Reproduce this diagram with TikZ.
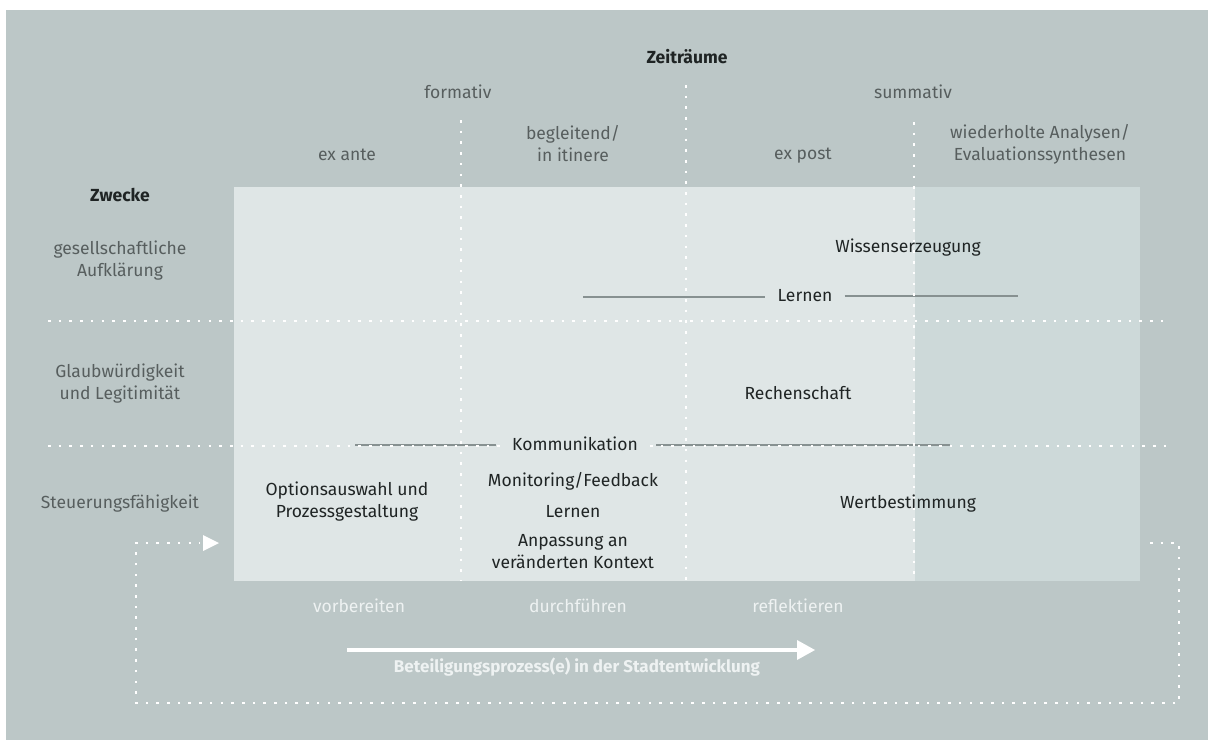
\documentclass[tikz,border=0pt]{standalone}
\usepackage{fontspec}
\setmainfont{Fira Sans}
\definecolor{bg}{HTML}{BCC7C7}
\definecolor{panel}{HTML}{DFE6E6}
\definecolor{panelR}{HTML}{CDD9D9}
\definecolor{hdrgray}{HTML}{575E5E}
\definecolor{celltext}{HTML}{1F2424}
\definecolor{linegray}{HTML}{879191}
\definecolor{soft}{HTML}{EEF2F2}
\begin{document}
\begin{tikzpicture}[x=1pt,y=-1pt,
  every node/.style={font=\fontsize{17.5}{22}\selectfont, align=center, inner sep=0pt},
  hdr/.style={text=hdrgray},
  cell/.style={text=celltext},
  ttl/.style={text=celltext, font=\fontsize{17.5}{22}\selectfont\bfseries},
  phase/.style={text=soft},
  wdot/.style={draw=white, line width=2.8pt, dash pattern=on 2.6pt off 8.1pt},
  gline/.style={draw=linegray, line width=1.2pt},
  loopdot/.style={draw=white, line width=2.8pt, dash pattern=on 2.6pt off 8.1pt},
]
\useasboundingbox (0,0) rectangle (1208,740);
\fill[bg] (6,10) rectangle (1208,740);
\fill[panel] (234,187) rectangle (1140,581);
\fill[panelR] (915,187) rectangle (1140,581);

% connector lines with labels
\node[cell] (lern) at (805,296) {Lernen};
\coordinate (lernL) at (583,297);
\coordinate (lernR) at (1018,296);
\draw[gline] (lernL) -- ([xshift=-12pt]lern.west |- lernL);
\draw[gline] ([xshift=12pt]lern.east |- lernR) -- (lernR);

\node[cell] (komm) at (575,444) {Kommunikation};
\coordinate (kommL) at (355,445);
\coordinate (kommR) at (950,445);
\draw[gline] (kommL) -- ([xshift=-16pt]komm.west |- kommL);
\draw[gline] ([xshift=18pt]komm.east |- kommR) -- (kommR);

% dotted grid
\draw[wdot] (461,120) -- (461,581);
\draw[wdot] (686,85) -- (686,581);
\draw[wdot] (914,122) -- (914,581);
\draw[wdot] (48,321) -- (1170,321);
\draw[wdot] (48,446) -- (500,446);
\draw[wdot] (650,446) -- (1170,446);

% headers
\node[ttl] (zeit) at (687,57) {Zeiträume};
\node[hdr] (form) at (458,92) {formativ};
\node[hdr] (summ) at (913,92) {summativ};
\node[hdr] (exante) at (347,155) {ex ante};
\node[hdr] (begl) at (573,144) {begleitend/\\in itinere};
\node[hdr] (expost) at (803,156) {ex post};
\node[hdr] (wied) at (1040,144) {wiederholte Analysen/\\Evaluationssynthesen};

\node[ttl] (zweck) at (120,195) {Zwecke};
\node[hdr] (ges) at (120,261) {gesellschaftliche\\Aufklärung};
\node[hdr] (glaub) at (120,384) {Glaubwürdigkeit\\und Legitimität};
\node[hdr] (steu) at (120,504) {Steuerungsfähigkeit};

% cells
\node[cell] (wiss) at (908,248) {Wissenserzeugung};
\node[cell] (rech) at (798,393) {Rechenschaft};
\node[cell] (opt) at (347,502) {Optionsauswahl und\\Prozessgestaltung};
\node[cell] (moni) at (573,481) {Monitoring/Feedback};
\node[cell] (lern2) at (573,512) {Lernen};
\node[cell] (anp) at (573,552) {Anpassung an\\veränderten Kontext};
\node[cell] (wert) at (908,504) {Wertbestimmung};

% phases
\node[phase] (vorb) at (359,606) {vorbereiten};
\node[phase] (durch) at (578,606) {durchführen};
\node[phase] (refl) at (798,606) {reflektieren};

% main arrow
\coordinate (arrS) at (347,650);
\coordinate (arrE) at (798,650);
\draw[white, line width=3.5pt] (arrS) -- (arrE);
\fill[white] (797,640) -- (815,650) -- (797,660) -- cycle;
\node[text=soft, font=\fontsize{17}{20}\selectfont\bfseries] (bet) at (577,667) {Beteiligungsprozess(e) in der Stadtentwicklung};

% feedback loop
\coordinate (l1) at (1150,543);
\coordinate (l2) at (1179,543);
\coordinate (l3) at (1179,703);
\coordinate (l4) at (136,703);
\coordinate (l5) at (136,543);
\coordinate (l6) at (200,543);
\draw[loopdot] (l1) -- (l2) -- (l3) -- (l4) -- (l5) -- (l6);
\fill[white] (203,535) -- (219,543) -- (203,551) -- cycle;
\end{tikzpicture}
\end{document}
